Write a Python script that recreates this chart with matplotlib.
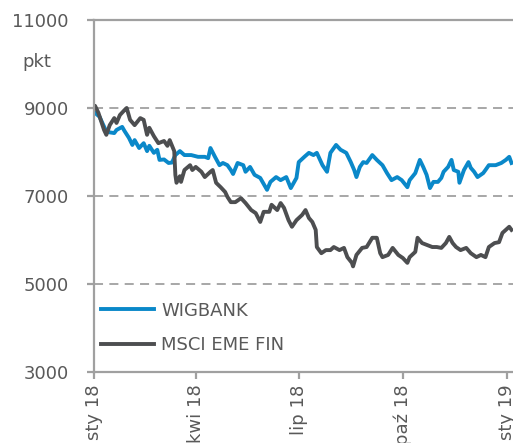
import matplotlib
matplotlib.use('Agg')
import matplotlib.pyplot as plt
import pandas as pd

# WIGBANK (odczyt z wykresu)
wig_dates = ['2018-01-02', '2018-01-06', '2018-01-11', '2018-01-14', '2018-01-19', '2018-01-21',
             '2018-01-26', '2018-01-28', '2018-02-01', '2018-02-04', '2018-02-06', '2018-02-10',
             '2018-02-14', '2018-02-17', '2018-02-19', '2018-02-23', '2018-02-26', '2018-02-28',
             '2018-03-04', '2018-03-08', '2018-03-11', '2018-03-14', '2018-03-18', '2018-03-22',
             '2018-03-28', '2018-04-03', '2018-04-09', '2018-04-12', '2018-04-14', '2018-04-18',
             '2018-04-22', '2018-04-25', '2018-04-29', '2018-05-02', '2018-05-04', '2018-05-08',
             '2018-05-13', '2018-05-15', '2018-05-19', '2018-05-23', '2018-05-28', '2018-05-30',
             '2018-06-03', '2018-06-06', '2018-06-11', '2018-06-15', '2018-06-20', '2018-06-24',
             '2018-06-29', '2018-07-01', '2018-07-06', '2018-07-10', '2018-07-14', '2018-07-17',
             '2018-07-22', '2018-07-26', '2018-07-29', '2018-08-03', '2018-08-07', '2018-08-12',
             '2018-08-16', '2018-08-19', '2018-08-21', '2018-08-24', '2018-08-27', '2018-08-30',
             '2018-09-04', '2018-09-08', '2018-09-13', '2018-09-17', '2018-09-21', '2018-09-26',
             '2018-09-30', '2018-10-05', '2018-10-07', '2018-10-12', '2018-10-16', '2018-10-19',
             '2018-10-22', '2018-10-25', '2018-10-28', '2018-11-01', '2018-11-04', '2018-11-06',
             '2018-11-10', '2018-11-13', '2018-11-15', '2018-11-19', '2018-11-20', '2018-11-24',
             '2018-11-28', '2018-11-30', '2018-12-03', '2018-12-06', '2018-12-11', '2018-12-13',
             '2018-12-16', '2018-12-22', '2018-12-27', '2018-12-31', '2019-01-03', '2019-01-05']
wig_values = [8890, 8800, 8520, 8450, 8430, 8500,
              8570, 8480, 8320, 8160, 8270, 8090,
              8200, 8020, 8140, 7980, 8050, 7820,
              7830, 7750, 7760, 7930, 8020, 7930,
              7930, 7890, 7890, 7860, 8090, 7890,
              7700, 7750, 7700, 7590, 7500, 7750,
              7700, 7550, 7660, 7480, 7410, 7320,
              7140, 7320, 7430, 7360, 7430, 7180,
              7410, 7770, 7890, 7980, 7930, 7980,
              7700, 7550, 7980, 8160, 8050, 7980,
              7770, 7590, 7430, 7660, 7770, 7750,
              7930, 7820, 7700, 7520, 7360, 7430,
              7360, 7200, 7360, 7520, 7820, 7660,
              7480, 7180, 7320, 7320, 7410, 7550,
              7660, 7820, 7590, 7550, 7300, 7590,
              7770, 7640, 7550, 7430, 7520, 7590,
              7700, 7700, 7750, 7820, 7890, 7750]

# MSCI EME FIN
msci_dates = ['2018-01-01', '2018-01-02', '2018-01-05', '2018-01-10', '2018-01-12', '2018-01-15',
              '2018-01-19', '2018-01-21', '2018-01-24', '2018-01-28', '2018-01-30', '2018-02-02',
              '2018-02-06', '2018-02-11', '2018-02-14', '2018-02-17', '2018-02-19', '2018-02-23',
              '2018-02-27', '2018-03-04', '2018-03-07', '2018-03-09', '2018-03-13', '2018-03-14',
              '2018-03-15', '2018-03-18', '2018-03-19', '2018-03-22', '2018-03-27', '2018-03-29',
              '2018-04-01', '2018-04-06', '2018-04-09', '2018-04-14', '2018-04-16', '2018-04-19',
              '2018-04-23', '2018-04-27', '2018-04-29', '2018-05-02', '2018-05-06', '2018-05-11',
              '2018-05-15', '2018-05-20', '2018-05-24', '2018-05-28', '2018-05-31', '2018-06-05',
              '2018-06-07', '2018-06-12', '2018-06-15', '2018-06-18', '2018-06-22', '2018-06-25',
              '2018-06-29', '2018-07-04', '2018-07-07', '2018-07-10', '2018-07-13', '2018-07-16',
              '2018-07-17', '2018-07-21', '2018-07-25', '2018-07-29', '2018-08-01', '2018-08-06',
              '2018-08-10', '2018-08-13', '2018-08-17', '2018-08-18', '2018-08-21', '2018-08-26',
              '2018-08-30', '2018-09-04', '2018-09-08', '2018-09-11', '2018-09-13', '2018-09-18',
              '2018-09-22', '2018-09-27', '2018-10-01', '2018-10-05', '2018-10-07', '2018-10-12',
              '2018-10-14', '2018-10-18', '2018-10-22', '2018-10-27', '2018-10-31', '2018-11-04',
              '2018-11-08', '2018-11-11', '2018-11-14', '2018-11-17', '2018-11-21', '2018-11-26',
              '2018-11-30', '2018-12-05', '2018-12-09', '2018-12-13', '2018-12-16', '2018-12-21',
              '2018-12-25', '2018-12-28', '2018-12-31', '2019-01-03', '2019-01-05']
msci_values = [9020, 9050, 8890, 8500, 8390, 8610,
               8770, 8660, 8840, 8950, 9000, 8730,
               8610, 8770, 8730, 8390, 8550, 8360,
               8200, 8250, 8140, 8270, 8020, 7480,
               7300, 7450, 7320, 7590, 7700, 7590,
               7660, 7550, 7430, 7550, 7590, 7300,
               7200, 7090, 6980, 6860, 6860, 6950,
               6840, 6680, 6610, 6410, 6640, 6640,
               6800, 6680, 6840, 6730, 6450, 6300,
               6450, 6570, 6680, 6500, 6410, 6230,
               5840, 5700, 5770, 5770, 5840, 5770,
               5820, 5610, 5480, 5400, 5660, 5820,
               5840, 6050, 6050, 5700, 5610, 5660,
               5820, 5660, 5590, 5480, 5610, 5730,
               6050, 5930, 5890, 5840, 5840, 5820,
               5930, 6070, 5930, 5840, 5770, 5820,
               5700, 5610, 5660, 5610, 5840, 5930,
               5950, 6160, 6230, 6300, 6230]

tick_dates = ['2018-01-01', '2018-04-01', '2018-07-01', '2018-10-01', '2019-01-01']
tick_labels = ['sty 18', 'kwi 18', 'lip 18', 'paź 18', 'sty 19']
y_ticks = [3000, 5000, 7000, 9000, 11000]

text_color = '#595959'
axis_color = '#a0a0a0'

plt.rcParams['font.family'] = ['DejaVu Sans']
plt.rcParams['font.size'] = 13

fig = plt.figure(figsize=(5.13, 4.43), dpi=100)
ax = fig.add_axes([0.183, 0.1603, 0.817, 0.7946])

ax.plot(pd.to_datetime(wig_dates), wig_values, color='#0a88c9', linewidth=2.8,
        label='WIGBANK', solid_joinstyle='round')
ax.plot(pd.to_datetime(msci_dates), msci_values, color='#4d4e50', linewidth=2.8,
        label='MSCI EME FIN', solid_joinstyle='round')

ax.set_xlim(pd.Timestamp('2018-01-01'), pd.Timestamp('2019-01-06 08:00'))
ax.set_ylim(3000, 11000)
ax.set_yticks(y_ticks)
ax.set_xticks(pd.to_datetime(tick_dates))
ax.set_xticklabels(tick_labels, rotation=90, va='top', ha='center')

# siatka przerywana
for v in y_ticks[1:-1]:
    ax.axhline(v, color=axis_color, linestyle=(0, (5, 3.5)), linewidth=1.3, zorder=0)

for side in ['left', 'bottom', 'top']:
    ax.spines[side].set_color(axis_color)
    ax.spines[side].set_linewidth(1.6)
ax.spines['right'].set_visible(False)

ax.tick_params(axis='both', colors=axis_color, labelcolor=text_color, length=5, width=1.6)
ax.tick_params(axis='y', pad=13)
ax.tick_params(axis='x', pad=4)

ax.text(-0.135, 0.88, 'pkt', transform=ax.transAxes, color=text_color, ha='center', va='center')

ax.legend(loc='upper left', bbox_to_anchor=(0.018, 0.2), frameon=False, borderpad=0,
          borderaxespad=0, handlelength=2.9, handletextpad=0.4, labelspacing=0.9,
          labelcolor=text_color)

plt.savefig('out.png', dpi=100)
